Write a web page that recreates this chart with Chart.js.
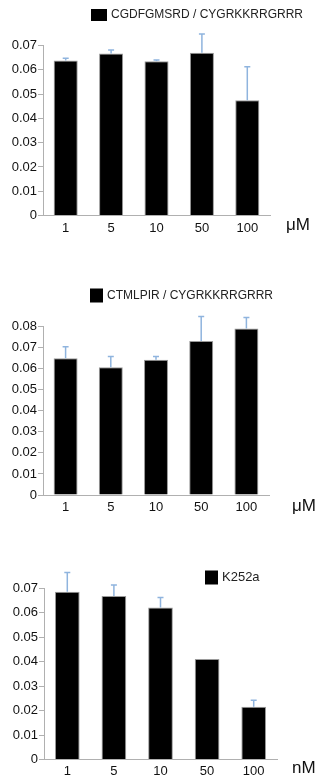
<!DOCTYPE html>
<html>
<head>
<meta charset="utf-8">
<script src="https://cdn.jsdelivr.net/npm/chart.js@4.4.1/dist/chart.umd.min.js"></script>
<style>
  html, body { margin: 0; padding: 0; background: #fff; }
  body { width: 321px; height: 779px; position: relative; overflow: hidden; }
  .panel { position: absolute; left: 0; width: 321px; }
</style>
</head>
<body>
<div class="panel" style="top:0;height:240px"><canvas id="chart-1"></canvas></div>
<div class="panel" style="top:250px;height:270px"><canvas id="chart-2"></canvas></div>
<div class="panel" style="top:520px;height:259px"><canvas id="chart-3"></canvas></div>
<script>
// --- DATA ---
const doseLabels = ['1', '5', '10', '50', '100'];

const pep1Label = 'CGDFGMSRD / CYGRKKRRGRRR';
const pep1Means = [0.0638, 0.0667, 0.0635, 0.0670, 0.0475];
const pep1Errors = [0.0010, 0.0014, 0.0005, 0.0077, 0.0137];

const pep2Label = 'CTMLPIR / CYGRKKRRGRRR';
const pep2Means = [0.0649, 0.0607, 0.0642, 0.0731, 0.0790];
const pep2Errors = [0.0055, 0.0050, 0.0015, 0.0116, 0.0053];

const k252aLabel = 'K252a';
const k252aMeans = [0.0685, 0.0667, 0.0620, 0.0410, 0.0215];
const k252aErrors = [0.0078, 0.0045, 0.0041, 0, 0.0027];

const FONT = '"Liberation Sans", Arial, sans-serif';

// --- PLUGINS ---

// upward error bars, drawn from the bar top to mean + error
const errorBars = {
    id: 'errorBars',
    afterDatasetsDraw(chart) {
        const ctx = chart.ctx;
        const y = chart.scales.y;
        chart.data.datasets.forEach((ds, di) => {
            if (!ds.errors) return;
            const meta = chart.getDatasetMeta(di);
            meta.data.forEach((bar, i) => {
                const err = ds.errors[i];
                if (!err) return;
                const top = y.getPixelForValue(ds.data[i] + err);
                ctx.save();
                ctx.strokeStyle = '#8fb4de';
                ctx.lineWidth = 1.5;
                ctx.beginPath();
                ctx.moveTo(bar.x, bar.y);
                ctx.lineTo(bar.x, top);
                ctx.moveTo(bar.x - 3, top);
                ctx.lineTo(bar.x + 3, top);
                ctx.stroke();
                ctx.restore();
            });
        });
    }
};

// legend square + label and unit text beside the x axis
const sideText = {
    id: 'sideText',
    afterDraw(chart, args, opts) {
        const ctx = chart.ctx;
        const ds = chart.data.datasets[0];
        ctx.save();
        ctx.fillStyle = '#000';
        ctx.fillRect(opts.legendX, opts.legendY - opts.boxH / 2, opts.boxW, opts.boxH);
        ctx.fillStyle = '#222';
        ctx.font = opts.legendSize + 'px ' + FONT;
        ctx.textBaseline = 'middle';
        ctx.textAlign = 'left';
        ctx.fillText(ds.label, opts.legendX + opts.boxW + 4, opts.legendY);
        ctx.fillStyle = '#111';
        ctx.font = '17px ' + FONT;
        ctx.fillText(opts.unit, opts.unitX, opts.unitY);
        ctx.restore();
    }
};

function makeChart(id, label, means, errors, yMax, pad, side) {
    return new Chart(document.getElementById(id), {
        type: 'bar',
        data: {
            labels: doseLabels,
            datasets: [{
                label: label,
                data: means,
                errors: errors,
                backgroundColor: '#000',
                borderColor: '#9a9a9a',
                borderWidth: 1,
                categoryPercentage: 1,
                barPercentage: 0.53
            }]
        },
        options: {
            responsive: true,
            maintainAspectRatio: false,
            animation: false,
            layout: { padding: pad },
            plugins: {
                legend: { display: false },
                tooltip: { enabled: false },
                sideText: side
            },
            scales: {
                x: {
                    grid: { display: false, drawTicks: false, tickLength: 0 },
                    border: { color: '#b0b0b0', width: 1 },
                    ticks: { color: '#111', font: { family: FONT, size: 13 }, padding: side.xPad },
                    afterFit: s => { s.height = side.xHeight; }
                },
                y: {
                    min: 0,
                    max: yMax,
                    ticks: { stepSize: 0.01, color: '#111', font: { family: FONT, size: 13 }, padding: 1 },
                    grid: { drawOnChartArea: false, tickLength: 5, color: '#b0b0b0' },
                    border: { color: '#b0b0b0', width: 1 },
                    afterFit: s => { s.width = 43; }
                }
            }
        },
        plugins: [errorBars, sideText]
    });
}

makeChart('chart-1', pep1Label, pep1Means, pep1Errors, 0.07,
    { top: 45.5, right: 51, bottom: 3.5, left: 0 },
    { xPad: 5, xHeight: 21, legendX: 91, legendY: 15, boxW: 16, boxH: 12, legendSize: 12, unit: 'μM', unitX: 286, unitY: 225 });

makeChart('chart-2', pep2Label, pep2Means, pep2Errors, 0.08,
    { top: 76.5, right: 52, bottom: 4, left: 0 },
    { xPad: 5, xHeight: 21, legendX: 90, legendY: 45.5, boxW: 13, boxH: 14, legendSize: 12, unit: 'μM', unitX: 292, unitY: 256 });

makeChart('chart-3', k252aLabel, k252aMeans, k252aErrors, 0.07,
    { top: 68, right: 44, bottom: 0, left: 1 },
    { xPad: 4, xHeight: 19.5, legendX: 205, legendY: 57.5, boxW: 13, boxH: 14, legendSize: 13, unit: 'nM', unitX: 292, unitY: 248 });
</script>
</body>
</html>
